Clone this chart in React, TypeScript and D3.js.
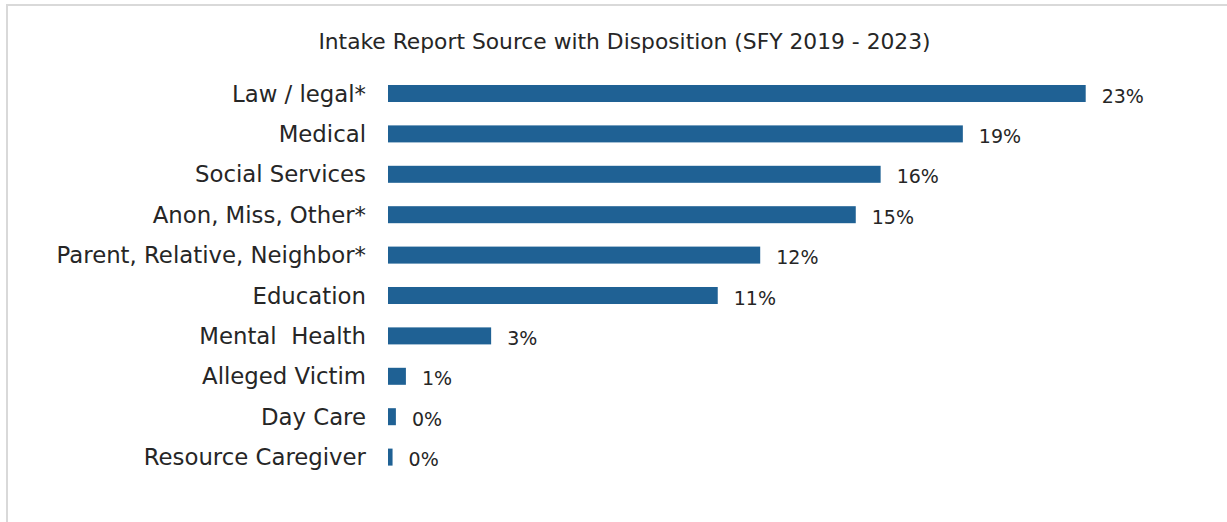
import React from "react";
import * as d3 from "d3";

const categories = [
  "Law / legal*",
  "Medical",
  "Social Services",
  "Anon, Miss, Other*",
  "Parent, Relative, Neighbor*",
  "Education",
  "Mental  Health",
  "Alleged Victim",
  "Day Care",
  "Resource Caregiver",
];
const values = [23.0, 18.95, 16.24, 15.42, 12.27, 10.87, 3.4, 0.59, 0.26, 0.15];
const title = "Intake Report Source with Disposition (SFY 2019 - 2023)";

const W = 1227;
const H = 522;
const FONT = "'DejaVu Sans', sans-serif";
const BAR = "#1F6194";
const TXT = "#262626";

export default function App() {
  const x = d3.scaleLinear().domain([0, 23]).range([388, 1085.7]);
  const y = d3
    .scaleBand<string>()
    .domain(categories)
    .range([73.3, 477.3])
    .paddingInner(0.579)
    .paddingOuter(0.2895);
  const fmt = d3.format(".0%");
  return (
    <div style={{ position: "absolute", left: 0, top: 0 }}>
      <svg width={W} height={H} style={{ display: "block", background: "#fff" }}>
        <rect x={0} y={0} width={W} height={H} fill="#fff" />
        <line x1={6} x2={W} y1={5} y2={5} stroke="#d9d9d9" strokeWidth={2} />
        <line x1={7} x2={7} y1={4} y2={H} stroke="#d9d9d9" strokeWidth={2} />
        <text
          x={624.5}
          y={49}
          textAnchor="middle"
          fontFamily={FONT}
          fontSize={21.8}
          fill={TXT}
        >
          {title}
        </text>
        {categories.map((c, i) => {
          const yy = y(c)!;
          const bw = y.bandwidth();
          return (
            <g key={c}>
              <rect x={x(0)} y={yy} width={x(values[i]) - x(0)} height={bw} fill={BAR} />
              <text
                x={366}
                y={yy + bw / 2 + 8}
                textAnchor="end"
                fontFamily={FONT}
                fontSize={22.8}
                fill={TXT}
                style={{ whiteSpace: "pre" }}
              >
                {c}
              </text>
              <text
                x={x(values[i]) + 16}
                y={yy + bw / 2 + 9}
                fontFamily={FONT}
                fontSize={19}
                fill={TXT}
              >
                {fmt(values[i] / 100)}
              </text>
            </g>
          );
        })}
      </svg>
    </div>
  );
}
